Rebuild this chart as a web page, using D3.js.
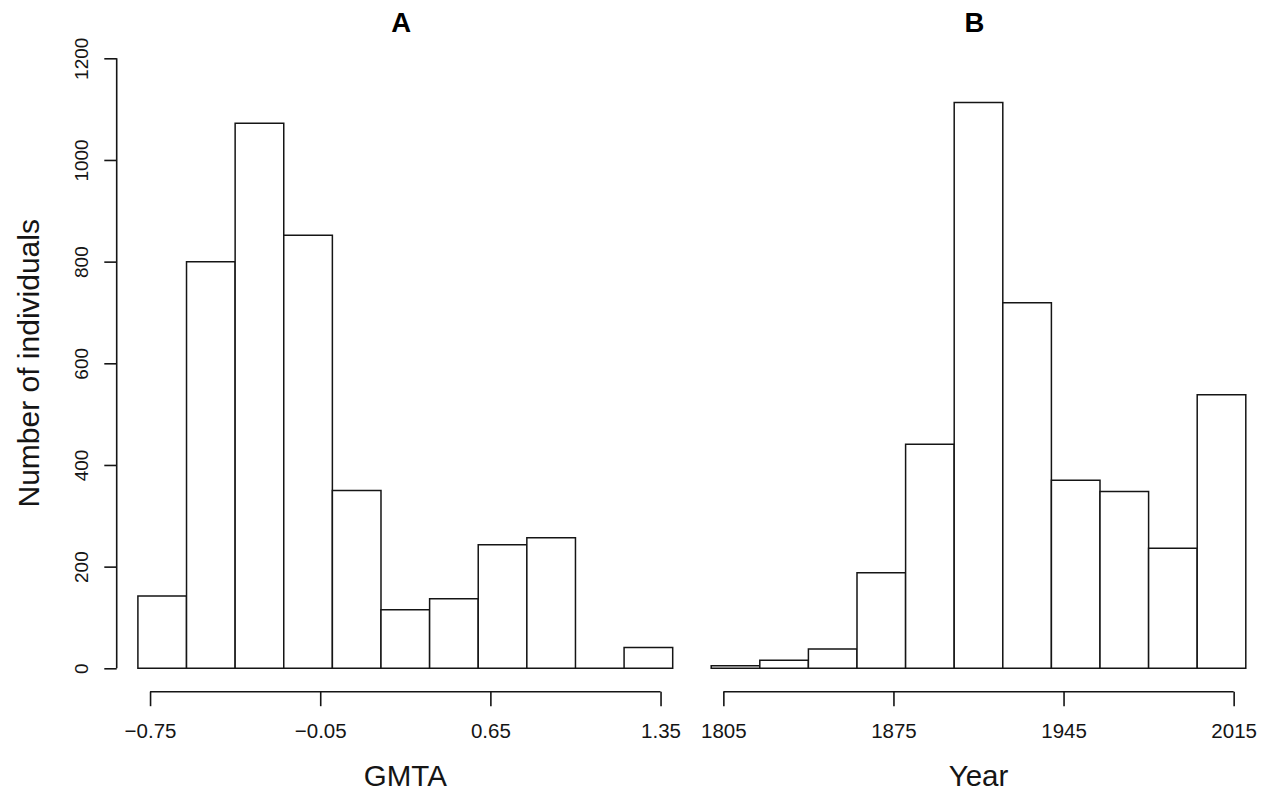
<!DOCTYPE html>
<html>
<head>
<meta charset="utf-8">
<script src="https://cdn.jsdelivr.net/npm/d3@7"></script>
<style>
  html, body { margin: 0; padding: 0; background: #fff; }
  svg { display: block; font-family: "Liberation Sans", Arial, Helvetica, sans-serif; }
</style>
</head>
<body>
<svg id="chart" width="1268" height="795"></svg>
<script>
// ---- data ----
const gmtaBreaks = [-0.8, -0.6, -0.4, -0.2, 0.0, 0.2, 0.4, 0.6, 0.8, 1.0, 1.2, 1.4];
const gmtaCounts = [142, 800, 1072, 852, 350, 115, 137, 243, 257, 0, 41];
const gmtaTicks = [-0.75, -0.05, 0.65, 1.35];

const yearBreaks = [1800, 1820, 1840, 1860, 1880, 1900, 1920, 1940, 1960, 1980, 2000, 2020];
const yearCounts = [5, 16, 38, 188, 441, 1113, 719, 370, 348, 236, 538];
const yearTicks = [1805, 1875, 1945, 2015];

const countTicks = [0, 200, 400, 600, 800, 1000, 1200];
const panelTitles = ["A", "B"];
const xLabels = ["GMTA", "Year"];
const yLabel = "Number of individuals";

// ---- drawing ----
const svg = d3.select("#chart");
const ink = "#151515";

const y = d3.scaleLinear().domain([0, 1200]).range([668.3, 58.3]);

const panels = [
  { breaks: gmtaBreaks, counts: gmtaCounts, ticks: gmtaTicks, range: [137.9, 672.7],
    fmt: d => d3.format(".2f")(d).replace("-", "\u2212"), title: panelTitles[0], xlab: xLabels[0] },
  { breaks: yearBreaks, counts: yearCounts, ticks: yearTicks, range: [711.2, 1245.8],
    fmt: d => String(d), title: panelTitles[1], xlab: xLabels[1] }
];

panels.forEach(p => {
  const x = d3.scaleLinear()
    .domain([p.breaks[0], p.breaks[p.breaks.length - 1]])
    .range(p.range);

  const bins = p.counts.map((c, i) => ({ x0: p.breaks[i], x1: p.breaks[i + 1], c }));

  svg.append("g").selectAll("path").data(bins).join("path")
    .attr("d", d => {
      const a = x(d.x0), b = x(d.x1), y0 = y(0), y1 = y(d.c);
      return `M${a},${y0}V${y1}H${b}V${y0}Z`;
    })
    .attr("fill", "#fff")
    .attr("stroke", ink)
    .attr("stroke-width", 1.5)
    .attr("stroke-linejoin", "miter");

  // x axis (R style: line only between outer ticks)
  const gx = svg.append("g").attr("transform", "translate(0,691.7)")
    .call(d3.axisBottom(x).tickValues(p.ticks).tickSize(14.5).tickPadding(17).tickFormat(p.fmt));
  gx.select(".domain").remove();
  gx.append("line")
    .attr("x1", x(p.ticks[0])).attr("x2", x(p.ticks[p.ticks.length - 1]))
    .attr("y1", 0).attr("y2", 0)
    .attr("stroke", ink).attr("stroke-width", 1.6);
  gx.selectAll(".tick line").attr("stroke", ink).attr("stroke-width", 1.6);
  gx.selectAll(".tick text")
    .attr("fill", ink)
    .style("font-size", "20.5px");

  // x label
  svg.append("text")
    .attr("x", (x(p.ticks[0]) + x(p.ticks[p.ticks.length - 1])) / 2)
    .attr("y", 786)
    .attr("text-anchor", "middle")
    .attr("fill", ink)
    .style("font-size", "29.5px")
    .text(p.xlab);

  // title
  svg.append("text")
    .attr("x", (p.range[0] + p.range[1]) / 2 - 4)
    .attr("y", 32)
    .attr("text-anchor", "middle")
    .attr("fill", "#000")
    .style("font-size", "27.5px")
    .style("font-weight", "bold")
    .text(p.title);
});

// y axis (panel A only)
const gy = svg.append("g").attr("transform", "translate(116.7,0)")
  .call(d3.axisLeft(y).tickValues(countTicks).tickSize(12.4).tickFormat(d3.format("d")));
gy.select(".domain").remove();
gy.append("line")
  .attr("x1", 0).attr("x2", 0)
  .attr("y1", y(0)).attr("y2", y(1200))
  .attr("stroke", ink).attr("stroke-width", 1.6);
gy.selectAll(".tick line").attr("stroke", ink).attr("stroke-width", 1.6);
gy.selectAll(".tick text")
  .attr("x", null).attr("dy", null)
  .attr("text-anchor", "middle")
  .attr("transform", "translate(-29,0) rotate(-90)")
  .attr("fill", ink)
  .style("font-size", "19px");

svg.append("text")
  .attr("transform", `translate(39,${(y(0) + y(1200)) / 2}) rotate(-90)`)
  .attr("text-anchor", "middle")
  .attr("fill", ink)
  .style("font-size", "30px")
  .text(yLabel);
</script>
</body>
</html>
